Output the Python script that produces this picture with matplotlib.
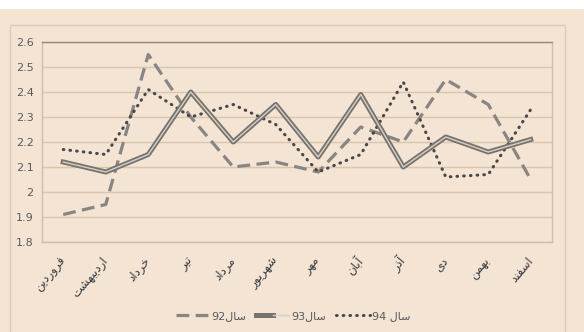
import matplotlib
matplotlib.use('Agg')
import matplotlib.pyplot as plt
import matplotlib.transforms as mtransforms
from matplotlib.lines import Line2D
from matplotlib.patches import Rectangle
from matplotlib.legend_handler import HandlerTuple

months = ['فروردین', 'اردیبهشت', 'خرداد', 'تیر', 'مرداد', 'شهریور',
          'مهر', 'آبان', 'آذر', 'دی', 'بهمن', 'اسفند']
s92 = [1.91, 1.95, 2.55, 2.30, 2.10, 2.12, 2.08, 2.26, 2.20, 2.45, 2.35, 2.05]
s93 = [2.12, 2.08, 2.15, 2.40, 2.20, 2.35, 2.14, 2.39, 2.10, 2.22, 2.16, 2.21]
s94 = [2.17, 2.15, 2.41, 2.30, 2.35, 2.27, 2.08, 2.15, 2.44, 2.06, 2.07, 2.33]
labels = ['سال92', 'سال93', 'سال 94']
yticks = [1.8, 1.9, 2, 2.1, 2.2, 2.3, 2.4, 2.5, 2.6]

# matplotlib does no arabic shaping, so pick contextual forms by hand
# letter: (isolated, final, initial, medial)
FORMS = {
    'ا': ('\ufe8d', '\ufe8e', None, None),
    'آ': ('\ufe81', '\ufe82', None, None),
    'ب': ('\ufe8f', '\ufe90', '\ufe91', '\ufe92'),
    'ت': ('\ufe95', '\ufe96', '\ufe97', '\ufe98'),
    'خ': ('\ufea5', '\ufea6', '\ufea7', '\ufea8'),
    'د': ('\ufea9', '\ufeaa', None, None),
    'ذ': ('\ufeab', '\ufeac', None, None),
    'ر': ('\ufead', '\ufeae', None, None),
    'س': ('\ufeb1', '\ufeb2', '\ufeb3', '\ufeb4'),
    'ش': ('\ufeb5', '\ufeb6', '\ufeb7', '\ufeb8'),
    'ف': ('\ufed1', '\ufed2', '\ufed3', '\ufed4'),
    'ل': ('\ufedd', '\ufede', '\ufedf', '\ufee0'),
    'م': ('\ufee1', '\ufee2', '\ufee3', '\ufee4'),
    'ن': ('\ufee5', '\ufee6', '\ufee7', '\ufee8'),
    'ه': ('\ufee9', '\ufeea', '\ufeeb', '\ufeec'),
    'و': ('\ufeed', '\ufeee', None, None),
    'ی': ('\ufbfc', '\ufbfd', '\ufbfe', '\ufbff'),
}


def shape_word(w):
    out = []
    for i, ch in enumerate(w):
        if ch not in FORMS:
            out.append(ch)
            continue
        prev = w[i - 1] if i > 0 else None
        nxt = w[i + 1] if i + 1 < len(w) else None
        join_prev = prev in FORMS and FORMS[prev][2] is not None
        join_next = nxt in FORMS and FORMS[ch][2] is not None
        iso, fin, ini, med = FORMS[ch]
        if join_prev and join_next:
            out.append(med)
        elif join_prev:
            out.append(fin)
        elif join_next:
            out.append(ini)
        else:
            out.append(iso)
    return ''.join(reversed(out))


def rtl(text):
    # split into letter runs and digit runs, lay them out right to left
    runs, cur = [], ''
    for ch in text:
        if cur and ((ch in FORMS) != (cur[-1] in FORMS)):
            runs.append(cur)
            cur = ''
        cur += ch
    runs.append(cur)
    parts = []
    for r in reversed(runs):
        if r[0] in FORMS:
            parts.append(shape_word(r))
        else:
            # spaces around numbers swap sides in right-to-left text
            core = r.strip(' ')
            lead = len(r) - len(r.lstrip(' '))
            trail = len(r) - len(r.rstrip(' '))
            parts.append(' ' * trail + core + ' ' * lead)
    return ''.join(parts)


bg = '#f3e4d3'
txt = '#5a5a5a'

fig = plt.figure(figsize=(5.84, 3.32), dpi=100, facecolor=bg)
fig.patches.append(Rectangle((0, 1 - 9 / 332), 1, 9 / 332, transform=fig.transFigure,
                             facecolor='white', edgecolor='none', zorder=0))
fig.patches.append(Rectangle((10 / 584, -0.02), 555 / 584, 1 - 25 / 332 + 0.02,
                             transform=fig.transFigure, facecolor='none',
                             edgecolor='#dccbb6', lw=1, zorder=1))

ax = fig.add_axes([42 / 584, 1 - 242 / 332, 510 / 584, 200 / 332])
ax.set_facecolor(bg)
x = list(range(len(months)))

ax.plot(x, s92, color='#8a857f', lw=2.3, dashes=(4, 2), zorder=3)
ax.plot(x, s93, color='#77726c', lw=3.6, zorder=4)
ax.plot(x, s93, color='#d9cfc3', lw=1.0, zorder=5)
ax.plot(x, s94, color='#4a4744', lw=2.2, dashes=(0.2, 2.0),
        dash_capstyle='round', zorder=3)

ax.set_xlim(-0.5, len(months) - 0.5)
ax.set_ylim(1.8, 2.6)
ax.set_yticks(yticks)
ax.set_yticklabels([f'{v:g}' for v in yticks])
ax.grid(axis='y', color='#d8c6b0', lw=1)
ax.set_axisbelow(True)
ax.set_xticks(x)
ax.set_xticklabels([rtl(m) for m in months], rotation=50, ha='right',
                   va='center', rotation_mode='anchor', fontsize=8.5,
                   color='#3a3a3a', family='DejaVu Sans')
shift = mtransforms.ScaledTranslation(5 / 100, 0, fig.dpi_scale_trans)
for lab in ax.get_xticklabels():
    lab.set_transform(lab.get_transform() + shift)
ax.tick_params(axis='x', length=0, pad=12)
ax.tick_params(axis='y', length=0, pad=6, labelsize=8, labelcolor=txt)
for name, sp in ax.spines.items():
    sp.set_color('#cdbfae')
    sp.set_linewidth(1)
ax.spines['top'].set_color('#8f8982')

h92 = Line2D([], [], color='#8a857f', lw=2.3, dashes=(4, 2))
h93 = (Line2D([], [], color='#77726c', lw=3.6), Line2D([], [], color='#d9cfc3', lw=1.0))
h94 = Line2D([], [], color='#4a4744', lw=2.2, dashes=(0.2, 2.0), dash_capstyle='round')
leg = fig.legend([h92, h93, h94], [rtl(s) for s in labels],
                 handler_map={tuple: HandlerTuple(ndivide=None, pad=0)},
                 loc='center', bbox_to_anchor=(293 / 584, 1 - 316 / 332),
                 ncol=3, frameon=False, fontsize=8, handlelength=3.0,
                 handletextpad=0.2, columnspacing=0.9)
for t in leg.get_texts():
    t.set_color(txt)

fig.savefig('out.png', dpi=100, facecolor=bg)
